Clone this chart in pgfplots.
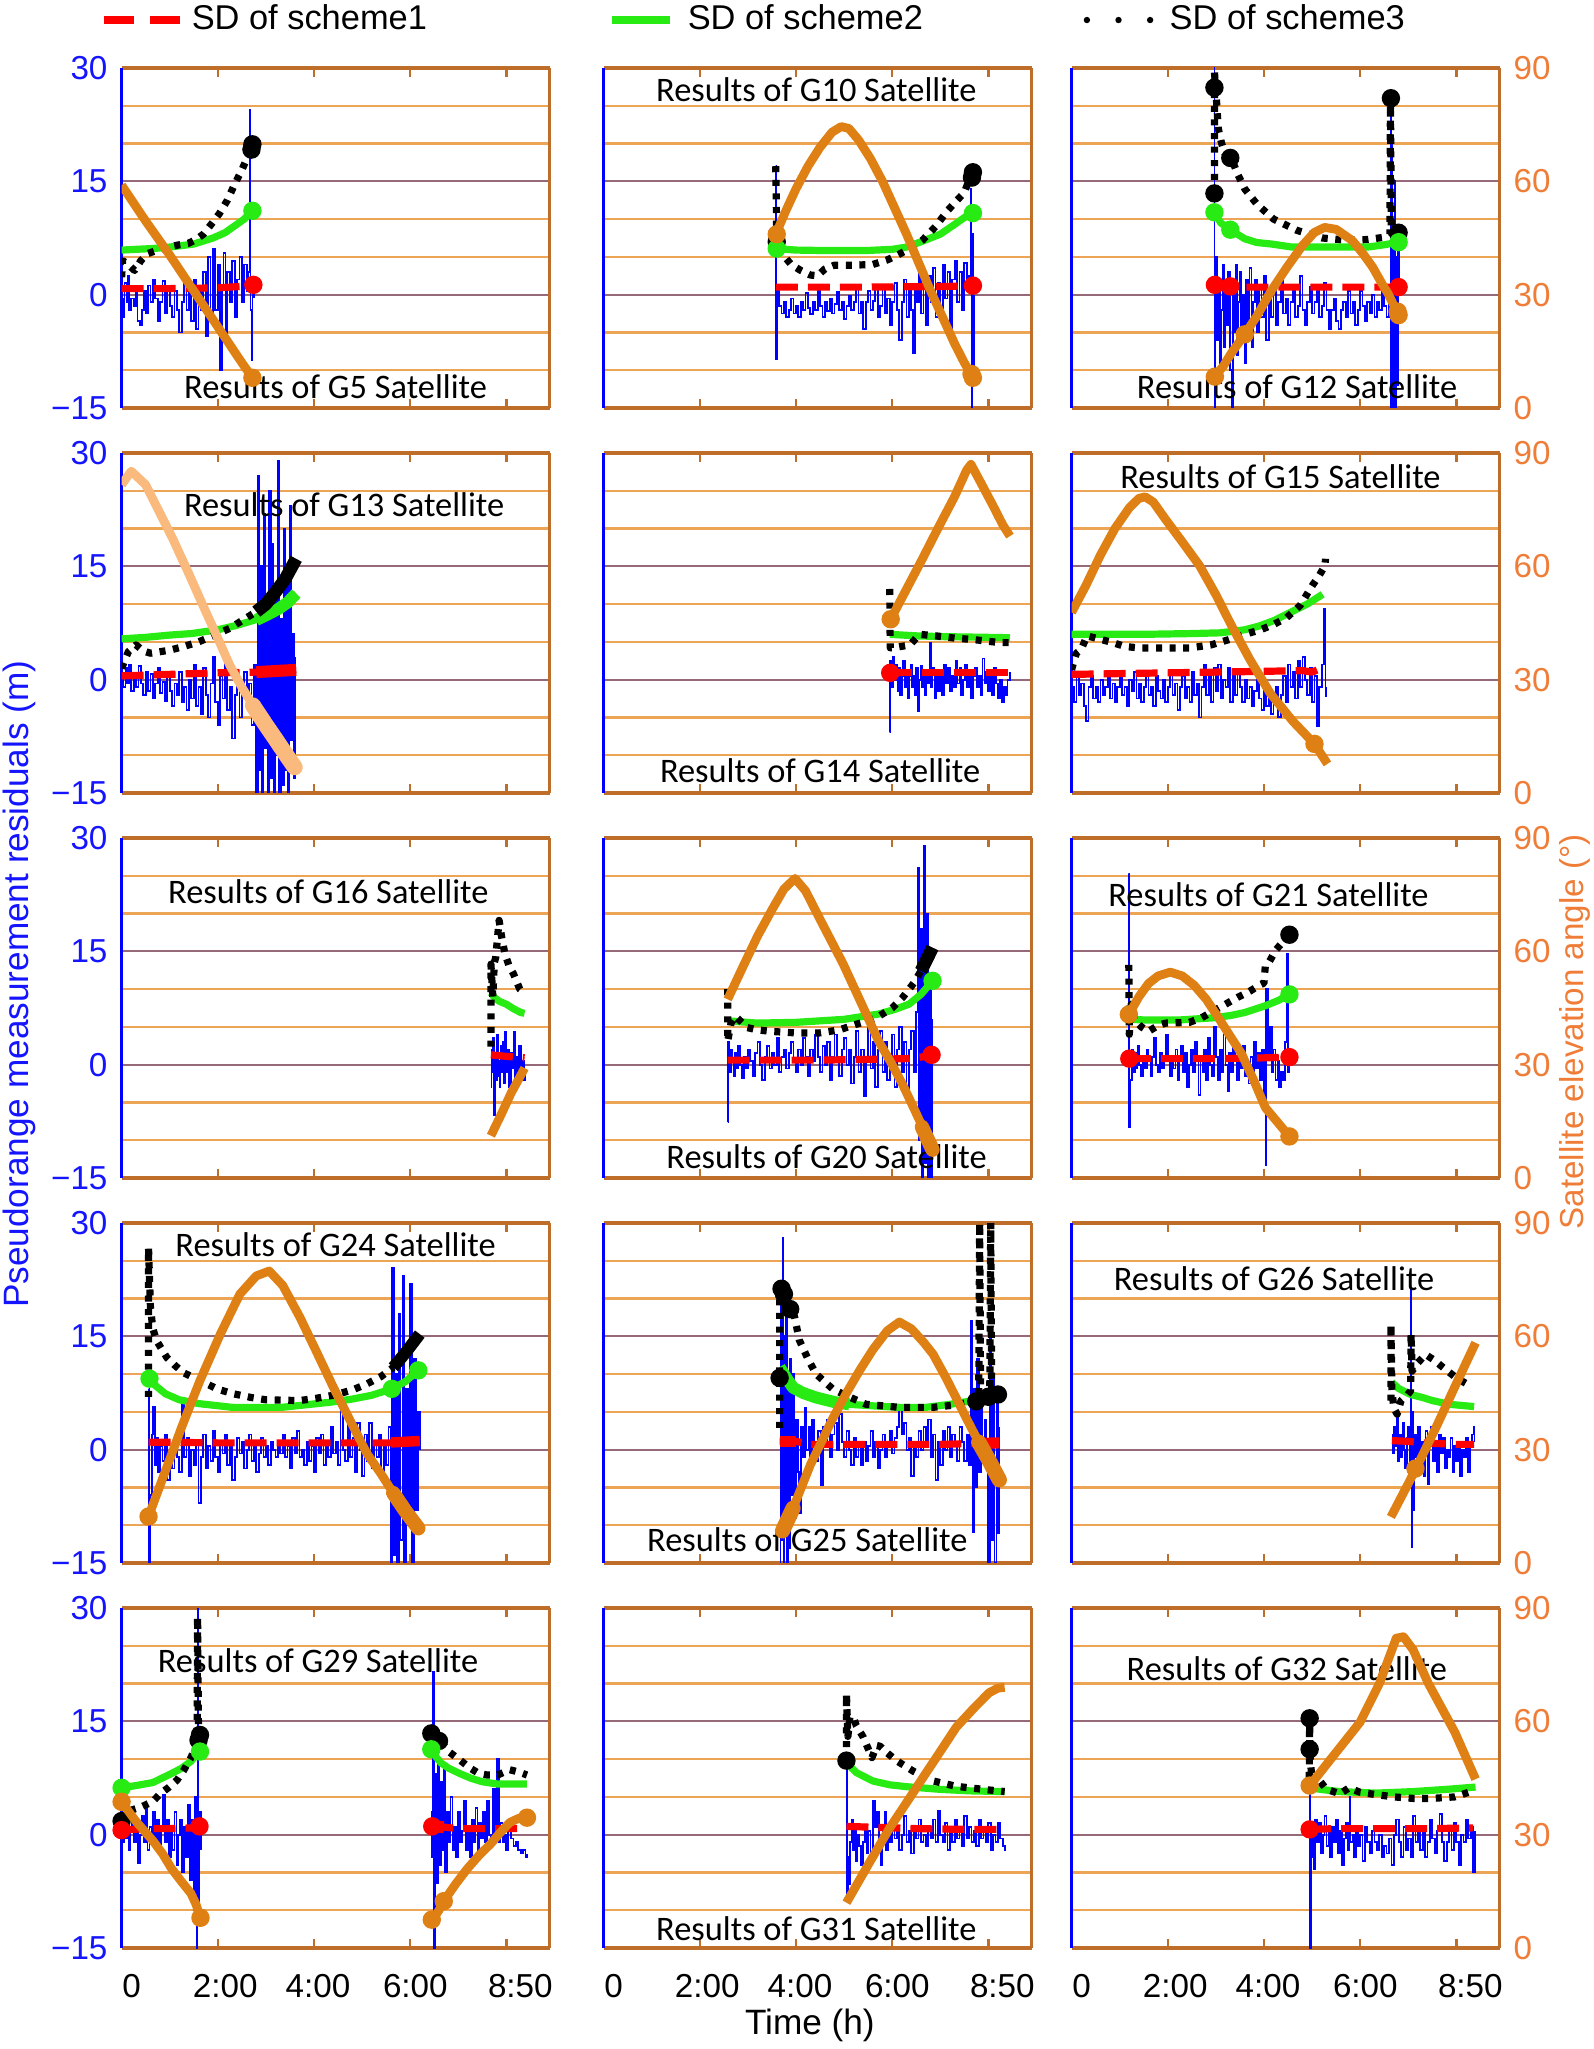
\documentclass[border=0pt]{standalone}
\usepackage{fontspec}
\setmainfont{Liberation Sans}
\newfontfamily\calibri{Carlito}
\usepackage{pgfplots}
\pgfplotsset{compat=1.18}
\definecolor{resblue}{RGB}{0,0,255}
\definecolor{sdred}{RGB}{255,0,0}
\definecolor{sdgreen}{RGB}{40,235,20}
\definecolor{elev}{RGB}{222,128,20}
\definecolor{elevlight}{RGB}{250,185,125}
\definecolor{gridmaj}{RGB}{150,105,120}
\definecolor{gridmin}{RGB}{235,165,85}
\definecolor{spine}{RGB}{190,110,40}
\definecolor{axblue}{RGB}{20,20,255}
\definecolor{axorange}{RGB}{240,125,55}
\def\cA{30.4pt}\def\cB{150.9pt}\def\cC{267.9pt}
\def\rA{410.25pt}\def\rB{314pt}\def\rC{217.75pt}\def\rD{121.5pt}\def\rE{25.25pt}
\newcommand{\ttl}[3]{\node[font=\calibri\fontsize{8.6}{10}\selectfont,inner sep=0pt] at (rel axis cs:#1,#2) {#3};}
\pgfplotsset{
  L/.style={width=107pt,height=85pt,scale only axis,anchor=south west,
    xmin=0,xmax=8.9,ymin=-15,ymax=30,
    xtick={0,2,4,6,8},xticklabels={},
    ytick={-15,0,15,30},yticklabels={},
    minor ytick={-10,-5,5,10,20,25},
    ymajorgrids,yminorgrids,
    major grid style={gridmaj,line width=0.55pt},
    minor grid style={gridmin,line width=0.55pt},
    ytick style={draw=none},minor tick length=0pt,
    xtick style={spine,line width=0.6pt},major tick length=2.2pt,tick align=inside,
    separate axis lines,
    axis line style={line width=0.8pt},
    x axis line style={spine},y axis line style={resblue},
    tick label style={font=\fontsize{8.3}{9}\selectfont},
    label style={font=\fontsize{8.8}{10}\selectfont}},
  Lc1/.style={yticklabels={−15,0,15,30},yticklabel style={axblue}},
  Bot/.style={xticklabels={\hspace*{5pt}0,\hspace*{3.7pt}2:00,\hspace*{2pt}4:00,\hspace*{2.6pt}6:00,\hspace*{7pt}8:50},
    xticklabel style={yshift=-3pt}},
  R/.style={width=107pt,height=85pt,scale only axis,anchor=south west,
    xmin=0,xmax=8.9,ymin=0,ymax=90,
    axis x line=none,axis y line*=right,
    ytick={0,30,60,90},yticklabels={},ytick style={draw=none},
    y axis line style={spine,line width=0.8pt},
    tick label style={font=\fontsize{8.3}{9}\selectfont},
    label style={font=\fontsize{8.8}{10}\selectfont}},
  Rc3/.style={yticklabels={0,30,60,90},yticklabel style={axorange}},
  res/.style={resblue,line width=0.45pt,no marks,const plot},
  sd1/.style={sdred,line width=1.8pt,dash pattern=on 5.5pt off 2.5pt,no marks,line join=round},
  sd2/.style={sdgreen,line width=1.8pt,no marks,line join=round},
  sd3/.style={black,line width=1.8pt,dash pattern=on 1.5pt off 1.9pt,no marks,line join=round},
  ele/.style={elev,line width=2.2pt,no marks,line join=round},
  blob/.style={only marks,mark=*,mark size=2.1pt},
}
\begin{document}
\begin{tikzpicture}
\path[use as bounding box] (0,0) rectangle (398.5pt,512.25pt);

% ---------- legend ----------
\begin{axis}[width=107pt,height=85pt,scale only axis,anchor=south west,at={(\cA,\rA)},
  hide axis,xmin=0,xmax=1,ymin=0,ymax=1,
  legend columns=3,
  legend style={at={(-0.079,1.141)},anchor=west,draw=none,fill=none,
    font=\fontsize{8.6}{10}\selectfont,
    /tikz/column 2/.style={column sep=43.3pt},
    /tikz/column 4/.style={column sep=38.2pt}}]
\addlegendimage{legend image code/.code={\draw[sdred,line width=1.8pt,dash pattern=on 7.5pt off 4pt] (0pt,0pt)--(19pt,0pt);}}
\addlegendentry{SD of scheme1}
\addlegendimage{legend image code/.code={\draw[sdgreen,line width=1.8pt] (0pt,0pt)--(14.5pt,0pt);\path (16.8pt,0pt);}}
\addlegendentry{SD of scheme2}
\addlegendimage{legend image code/.code={\draw[black,line width=1.6pt,line cap=round,dash pattern=on 0pt off 7.9pt] (0pt,0pt)--(16.5pt,0pt);\path (18.5pt,0pt);}}
\addlegendentry{SD of scheme3}
\end{axis}

% ================= G5 =================
\begin{axis}[L,Lc1,at={(\cA,\rA)}]
\addplot[res] coordinates {(0,-0.5)(0.03,-3)(0.06,1.5)(0.1,-1)(0.13,2.5)(0.16,-2)(0.2,-0.5)(0.25,-1.5)(0.3,1)(0.33,-3.5)(0.38,-4)(0.42,-2)(0.46,0.5)(0.5,-2.5)(0.55,1.2)(0.6,-1)(0.65,2)(0.7,-0.5)(0.75,-3.5)(0.8,-1)(0.85,1.8)(0.9,-2.5)(0.95,0.8)(1.0,-1.5)(1.05,-3)(1.1,0.5)(1.15,-2)(1.2,-5)(1.25,-1)(1.3,1.5)(1.35,-2)(1.4,0.5)(1.45,-3.5)(1.5,2)(1.55,-4.5)(1.6,1)(1.65,-2)(1.7,3)(1.75,-5.5)(1.8,5)(1.85,-3)(1.9,6)(1.95,-2)(2.0,4)(2.05,-10)(2.08,1)(2.12,5.5)(2.16,-6)(2.2,3)(2.25,-1)(2.3,4.5)(2.35,-3)(2.4,2)(2.45,5)(2.5,-1)(2.55,4)(2.6,0.5)(2.63,3)(2.66,24.5)(2.68,-2)(2.7,-8.6)(2.72,1)(2.76,-0.5)};
\addplot[sd1] coordinates {(0,0.8)(0.5,0.8)(1.0,0.8)(1.5,0.85)(2.0,0.9)(2.5,1.1)(2.76,1.3)};
\addplot[sd2] coordinates {(0,5.9)(0.3,6.0)(0.64,6.1)(1.0,6.3)(1.5,6.7)(1.9,7.5)(2.15,8.2)(2.35,9.1)(2.55,10.0)(2.72,11.1)};
\addplot[sd3] coordinates {(0,2.3)(0.02,4.5)(0.1,4.2)(0.27,3.2)(0.4,4.5)(0.53,5.4)(0.75,5.9)(0.96,6.3)(1.2,6.6)(1.39,6.8)(1.55,7.3)(1.7,8.0)(1.85,9.2)(2.03,10.7)(2.2,12.5)(2.35,14.6)(2.5,16.5)(2.61,18.1)(2.72,19.9)};
\addplot[blob,black] coordinates {(2.72,19.9)(2.7,19.2)};
\addplot[blob,sdgreen] coordinates {(2.72,11.1)};
\addplot[blob,sdred] coordinates {(2.74,1.3)};
\ttl{0.5}{0.062}{Results of G5 Satellite}
\end{axis}
\begin{axis}[R,at={(\cA,\rA)}]
\addplot[ele] coordinates {(0,59)(0.5,49.5)(1.0,40.5)(1.5,31)(2.0,21.5)(2.5,12)(2.72,8)};
\addplot[blob,elev] coordinates {(2.72,8)};
\end{axis}

% ================= G10 =================
\begin{axis}[L,at={(\cB,\rA)}]
\addplot[res] coordinates {(3.58,17)(3.59,-8.5)(3.61,1)(3.65,-1.5)(3.7,-2.5)(3.75,-1)(3.8,-3)(3.85,-2)(3.9,-0.5)(3.95,-2.5)(4.0,-1.5)(4.05,-3)(4.1,-1)(4.15,-2)(4.2,0.2)(4.25,-1.8)(4.3,-2.6)(4.35,-1)(4.4,-2)(4.45,0.5)(4.5,-1.5)(4.55,-3)(4.6,-1)(4.65,-2.2)(4.7,-0.5)(4.75,-2.5)(4.8,-1.2)(4.85,0.3)(4.9,-2)(4.95,-1)(5.0,-3.2)(5.05,-1.5)(5.1,-0.2)(5.15,-2)(5.2,-1)(5.25,0.8)(5.3,-2.5)(5.35,-1)(5.4,-4.5)(5.45,-1)(5.5,0.5)(5.55,-2)(5.6,-0.8)(5.65,1.2)(5.7,-3)(5.75,-1.5)(5.8,0.8)(5.85,-2.5)(5.9,-0.5)(5.95,-4)(6.0,-1)(6.05,1.5)(6.1,-2)(6.15,-6)(6.2,-1)(6.25,2)(6.3,-3)(6.35,0.5)(6.4,-2)(6.44,-7.8)(6.48,1)(6.52,-1)(6.56,3)(6.6,-2.5)(6.65,1)(6.7,-4)(6.75,2.5)(6.8,-1)(6.85,3.5)(6.9,-3)(6.95,1.5)(7.0,-2)(7.05,4)(7.1,-0.5)(7.15,3)(7.2,-4.5)(7.25,2)(7.3,4.5)(7.35,-1)(7.4,3)(7.45,-2)(7.5,4.2)(7.55,0.5)(7.6,2.5)(7.63,14)(7.65,-15)(7.67,8)(7.69,-10)(7.7,0)};
\addplot[sd1] coordinates {(3.58,1.0)(4.5,1.0)(5.5,1.0)(6.5,1.05)(7.2,1.1)(7.7,1.2)};
\addplot[sd2] coordinates {(3.58,6.1)(4.0,5.9)(4.5,5.85)(5.0,5.85)(5.5,5.85)(6.0,6.0)(6.3,6.3)(6.6,7.0)(7.0,8.0)(7.3,9.3)(7.5,10.2)(7.7,10.8)};
\addplot[sd3] coordinates {(3.58,17)(3.6,8)(3.7,5.5)(3.9,4.0)(4.1,3.2)(4.3,2.6)(4.45,2.5)(4.6,3.4)(4.8,3.9)(5.2,3.9)(5.6,4.0)(5.9,4.6)(6.1,5.2)(6.4,6.2)(6.63,7.2)(6.9,9.0)(7.15,11.1)(7.35,12.5)(7.5,13.5)(7.65,16.0)(7.7,16.4)};
\addplot[blob,black] coordinates {(7.68,16.2)(7.66,15.5)(3.6,7)};
\addplot[blob,sdgreen] coordinates {(7.68,10.8)(3.6,6.1)};
\addplot[blob,sdred] coordinates {(7.68,1.2)};
\ttl{0.497}{0.935}{Results of G10 Satellite}
\end{axis}
\begin{axis}[R,at={(\cB,\rA)}]
\addplot[ele] coordinates {(3.58,46)(3.8,52.5)(4.0,58)(4.25,64)(4.5,69)(4.75,73)(4.94,74.5)(5.1,74)(5.3,71)(5.55,66)(5.8,60)(6.05,53)(6.3,46)(6.55,38.5)(6.8,31)(7.05,24)(7.3,17)(7.5,12)(7.68,8)};
\addplot[blob,elev] coordinates {(3.6,46)(7.68,8)(7.65,9)};
\end{axis}

% ================= G12 =================
\begin{axis}[L,at={(\cC,\rA)}]
\addplot[res] coordinates {(2.96,30)(2.97,-15)(2.99,5)(3.02,-6)(3.05,2)(3.08,-9)(3.11,-2)(3.14,4)(3.17,-7)(3.2,1)(3.23,-4)(3.26,3)(3.3,-10)(3.33,-15)(3.35,2)(3.38,-5)(3.41,4)(3.44,-8)(3.47,-1)(3.5,3)(3.53,-6)(3.56,0)(3.6,-9)(3.63,2)(3.67,-4)(3.7,3.5)(3.74,-7)(3.78,-1)(3.82,2)(3.86,-5)(3.9,1)(3.95,-3)(4.0,2.5)(4.05,-6)(4.1,0)(4.15,-3)(4.2,1.5)(4.25,-4)(4.3,-1)(4.35,2)(4.4,-2.5)(4.45,-0.5)(4.5,-4)(4.55,-1)(4.6,1)(4.65,-3)(4.7,-1.5)(4.75,2.5)(4.8,-2)(4.85,-4)(4.9,-1)(4.95,1)(5.0,-2.5)(5.05,-1)(5.1,0.5)(5.15,-3)(5.2,-1.5)(5.25,1.5)(5.3,-2)(5.35,-4.5)(5.4,-2)(5.45,-0.5)(5.5,-3.5)(5.55,-4.5)(5.6,-2)(5.65,-1)(5.7,-3)(5.75,0.5)(5.8,-2.5)(5.85,-1)(5.9,-4)(5.95,-2)(6.0,0.5)(6.05,-1.5)(6.1,-3.5)(6.15,-1)(6.2,-2.5)(6.25,0)(6.3,-3)(6.35,-1)(6.4,-2)(6.45,0.5)(6.5,-1.5)(6.55,-3)(6.6,-1)(6.63,24)(6.64,-15)(6.66,20)(6.67,-15)(6.69,10)(6.7,-15)(6.72,15)(6.73,-15)(6.75,5)(6.77,-12)(6.78,8)(6.8,2)};
\addplot[sd1] coordinates {(2.97,1.3)(3.2,1.1)(3.5,1.0)(4.5,1.0)(5.5,1.0)(6.8,1.0)};
\addplot[sd2] coordinates {(2.97,10.9)(3.1,9.5)(3.32,8.5)(3.6,7.4)(3.85,6.9)(4.16,6.7)(4.58,6.3)(5.4,6.3)(6.16,6.3)(6.5,6.6)(6.8,6.95)};
\addplot[sd3] coordinates {(2.97,13.4)(2.97,29.5)(3.0,27)(3.05,22)(3.12,20)(3.2,18.5)(3.32,18.1)(3.45,16)(3.6,14)(3.85,12)(4.2,10)(4.69,8.5)(5.21,7.5)(5.74,7.2)(6.16,7.3)(6.5,7.6)(6.62,8.0)(6.63,26)(6.65,8.1)(6.8,8.2)};
\addplot[blob,black] coordinates {(2.97,27.4)(2.97,13.4)(3.3,18.1)(6.64,26)(6.8,8.2)};
\addplot[blob,sdgreen] coordinates {(2.97,10.9)(3.3,8.6)(6.8,6.95)};
\addplot[blob,sdred] coordinates {(2.98,1.3)(3.3,1.1)(6.8,1.0)};
\ttl{0.527}{0.062}{Results of G12 Satellite}
\end{axis}
\begin{axis}[R,Rc3,at={(\cC,\rA)}]
\addplot[ele] coordinates {(2.97,8.3)(3.15,11)(3.32,14.5)(3.6,19.5)(3.85,24.3)(4.15,31)(4.48,37.3)(4.8,43)(5.05,46.5)(5.26,47.8)(5.5,47.3)(5.84,44.3)(6.05,41)(6.26,37.3)(6.45,33)(6.58,30.3)(6.8,24.6)};
\addplot[blob,elev] coordinates {(2.98,8.3)(3.6,19.5)(6.78,25.5)(6.8,24.6)};
\end{axis}

% ================= G13 =================
\begin{axis}[L,Lc1,at={(\cA,\rB)}]
\addplot[res] coordinates {(0,0.5)(0.04,-1)(0.08,1.5)(0.12,-0.5)(0.16,2)(0.2,-1.5)(0.25,0.5)(0.3,-1)(0.35,1.8)(0.4,-0.5)(0.45,-2)(0.5,1)(0.55,-1.5)(0.6,0.8)(0.65,-2.5)(0.7,-0.5)(0.75,1.5)(0.8,-1.8)(0.85,-0.3)(0.9,-2.8)(0.95,0.5)(1.0,-1.5)(1.05,-3.5)(1.1,-0.5)(1.15,-2)(1.2,1)(1.25,-3)(1.3,-1)(1.35,-4)(1.4,0)(1.45,-2.5)(1.5,2)(1.55,-3.5)(1.6,-1)(1.65,-4.5)(1.7,1.5)(1.75,-2)(1.8,-5)(1.85,-0.5)(1.9,3)(1.95,-3)(2.0,-6)(2.05,0.5)(2.1,-2.5)(2.15,2.5)(2.2,-4)(2.25,-1)(2.3,-7.8)(2.35,-2)(2.4,0.5)(2.45,-5)(2.5,-1.5)(2.55,1)(2.6,-3.5)(2.65,-0.5)(2.7,-6)(2.75,2)(2.8,-15)(2.83,27)(2.86,-12)(2.89,15)(2.92,-15)(2.95,22)(2.98,-9)(3.01,10)(3.04,-15)(3.07,25)(3.1,-13)(3.13,18)(3.16,-15)(3.19,12)(3.22,-10)(3.25,29)(3.28,-15)(3.31,8)(3.34,-14)(3.37,20)(3.4,-12)(3.43,14)(3.46,-15)(3.49,23)(3.52,-8)(3.55,6)(3.58,-13)(3.61,3)};
\addplot[sd1] coordinates {(0,0.5)(1.0,0.7)(2.0,0.9)(2.8,1.0)(3.63,1.3)};
\addplot[sdred,line width=3pt] coordinates {(2.8,1.0)(3.63,1.3)};
\addplot[sd2] coordinates {(0,5.4)(0.5,5.6)(1.0,5.9)(1.45,6.1)(2.0,6.6)(2.4,7.2)(2.88,8.1)(3.27,9.4)(3.63,11.4)};
\addplot[sdgreen,line width=3pt] coordinates {(2.8,7.9)(3.0,8.5)(3.27,9.4)(3.45,10.2)(3.63,11.4)};
\addplot[sd3] coordinates {(0,1.5)(0.14,3.7)(0.3,4.6)(0.45,3.8)(0.6,3.5)(1.0,3.9)(1.3,4.4)(1.6,5.0)(1.9,5.8)(2.25,6.8)(2.5,7.8)(2.8,9.0)};
\addplot[black,line width=3.2pt,line join=round] coordinates {(2.8,9.0)(3.0,10.0)(3.2,11.6)(3.4,13.3)(3.63,16.0)};
\ttl{0.52}{0.849}{Results of G13 Satellite}
\end{axis}
\begin{axis}[R,at={(\cA,\rB)}]
\addplot[elevlight,line width=2.2pt,line join=round] coordinates {(0,81.6)(0.2,85.2)(0.5,81.6)(0.8,74)(1.06,67.4)(1.4,58)(1.69,49.7)(2.0,41)(2.25,33.8)(2.5,28)(2.73,23.2)(3.0,18)(3.2,14.3)(3.4,10.5)(3.6,6.8)};
\addplot[elevlight,line width=4pt,line cap=round] coordinates {(2.73,23.2)(3.0,18)(3.2,14.3)(3.4,10.5)(3.6,6.8)};
\end{axis}

% ================= G14 =================
\begin{axis}[L,at={(\cB,\rB)}]
\addplot[res] coordinates {(5.95,-7)(5.96,2.5)(5.99,-1)(6.02,3)(6.05,0)(6.08,2)(6.11,-1.5)(6.14,1.5)(6.17,-2)(6.2,0.5)(6.23,2.5)(6.26,-1)(6.29,1)(6.32,-2.5)(6.35,0.5)(6.38,2)(6.41,-1)(6.44,0.5)(6.47,-2)(6.5,1.5)(6.53,-4.2)(6.56,0)(6.59,1.8)(6.62,-1)(6.65,0.5)(6.68,-2)(6.71,1)(6.74,-0.5)(6.78,4.9)(6.8,-1)(6.84,1.5)(6.88,-2.5)(6.92,0.5)(6.96,-1.5)(7.0,1)(7.04,-2)(7.08,2)(7.12,-0.5)(7.16,1.5)(7.2,-1.5)(7.24,0.5)(7.28,-1)(7.32,2.5)(7.36,-0.5)(7.4,1.5)(7.44,-2)(7.48,0)(7.52,2)(7.56,-1)(7.6,1)(7.64,-2.5)(7.68,0.5)(7.72,1.5)(7.76,-1)(7.8,0.5)(7.84,-2)(7.88,2.8)(7.92,-0.5)(7.96,1)(8.0,-1.5)(8.04,0.5)(8.08,-2)(8.12,1.5)(8.16,-0.5)(8.2,-2.5)(8.24,0)(8.28,-3)(8.32,-1)(8.36,-2)(8.4,0)(8.45,1)};
\addplot[sd1] coordinates {(5.95,0.9)(7.0,0.9)(8.0,0.9)(8.45,0.9)};
\addplot[sd2] coordinates {(5.95,6.0)(6.5,5.8)(7.0,5.7)(7.5,5.65)(8.0,5.6)(8.45,5.55)};
\addplot[sd3] coordinates {(5.95,12)(5.96,4.2)(6.1,4.3)(6.37,4.6)(6.57,6.0)(6.9,5.8)(7.3,5.5)(7.7,5.3)(8.24,4.9)(8.45,4.9)};
\addplot[blob,sdred] coordinates {(5.96,0.9)};
\ttl{0.506}{0.066}{Results of G14 Satellite}
\end{axis}
\begin{axis}[R,at={(\cB,\rB)}]
\addplot[ele] coordinates {(5.97,46)(6.3,54)(6.63,62)(6.95,70)(7.3,78.5)(7.55,85.5)(7.64,87)(7.85,82)(8.1,76)(8.3,71)(8.45,68)};
\addplot[blob,elev] coordinates {(5.97,46)};
\end{axis}

% ================= G15 =================
\begin{axis}[L,at={(\cC,\rB)}]
\addplot[res] coordinates {(0,-1)(0.05,-3)(0.1,0.5)(0.15,-2)(0.2,-0.5)(0.25,-3.5)(0.3,-5.5)(0.35,-1)(0.4,0.5)(0.45,-2.5)(0.5,-1)(0.55,-3)(0.6,0)(0.65,-2)(0.7,-1)(0.75,1)(0.8,-2.5)(0.85,-0.5)(0.9,-3)(0.95,-1)(1.0,0.5)(1.05,-2)(1.1,-1)(1.15,-3.5)(1.2,0)(1.25,-1.5)(1.3,1)(1.35,-2.5)(1.4,-0.5)(1.45,-3)(1.5,-1)(1.55,0.8)(1.6,-2)(1.65,-1)(1.7,-3.5)(1.75,0.5)(1.8,-1.5)(1.85,-2.5)(1.9,0)(1.95,-3)(2.0,-1)(2.05,1.2)(2.1,-2)(2.15,-0.5)(2.2,-4)(2.25,-1)(2.3,0.5)(2.35,-2.5)(2.4,-1)(2.45,-3)(2.5,1)(2.55,-2)(2.6,-0.5)(2.65,-5)(2.7,-1)(2.75,2)(2.8,-2)(2.85,0.5)(2.9,-3)(2.95,1.5)(3.0,-1.5)(3.05,2)(3.1,-2.5)(3.15,0)(3.2,-1)(3.25,1.5)(3.3,-3)(3.35,0.5)(3.4,-2)(3.45,1)(3.5,-1)(3.55,-3)(3.6,0)(3.65,-2.5)(3.7,-1)(3.75,-3.5)(3.8,-1.5)(3.85,0)(3.9,-2.5)(3.95,-4)(4.0,-1.5)(4.05,-3.5)(4.1,-2)(4.15,-4.5)(4.2,-2.5)(4.25,-1)(4.3,-4.9)(4.35,-2)(4.4,0.5)(4.45,-3)(4.5,2)(4.55,-1)(4.6,1)(4.65,-2.5)(4.7,2.5)(4.75,-1)(4.8,3)(4.85,0)(4.9,-2)(4.95,1.5)(5.0,-3)(5.05,0.5)(5.1,-6.2)(5.15,-1)(5.2,2)(5.25,9.3)(5.28,-2.2)(5.3,-1)};
\addplot[sd1] coordinates {(0,0.7)(1,0.8)(2,0.9)(3,1.0)(4,1.1)(4.8,1.2)(5.0,1.0)(5.15,1.4)(5.3,1.5)};
\addplot[sd2] coordinates {(0,6.0)(0.5,6.0)(1.5,6.0)(2.5,6.1)(3.1,6.2)(3.6,6.6)(3.9,7.1)(4.2,7.8)(4.55,8.9)(4.9,10.0)(5.22,11.3)};
\addplot[sd3] coordinates {(0,1.3)(0.05,2.5)(0.1,3.5)(0.2,4.0)(0.32,5.8)(0.5,5.5)(0.86,4.9)(1.1,4.4)(1.4,4.2)(2.0,4.2)(2.46,4.2)(2.9,4.6)(3.27,5.3)(3.6,6.0)(3.93,6.6)(4.2,7.3)(4.47,8.2)(4.75,9.8)(5.0,12.4)(5.15,13.8)(5.27,15.1)(5.28,16)};
\ttl{0.488}{0.93}{Results of G15 Satellite}
\end{axis}
\begin{axis}[R,Rc3,at={(\cC,\rB)}]
\addplot[ele] coordinates {(0,47.8)(0.3,55)(0.6,63)(0.9,70)(1.2,75.5)(1.4,78)(1.53,78.4)(1.7,77)(1.95,72.5)(2.3,66.5)(2.66,60.2)(3.0,52.5)(3.33,44.2)(3.7,35.5)(4.13,26.4)(4.6,19)(5.05,13)(5.32,7.7)};
\addplot[blob,elev] coordinates {(5.05,13)};
\end{axis}

% ================= G16 =================
\begin{axis}[L,Lc1,at={(\cA,\rC)},ylabel={Pseudorange measurement residuals (m)},
  ylabel style={at={(axis description cs:-0.238,0.57)},anchor=center,axblue}]
\addplot[res] coordinates {(7.68,-3)(7.69,2)(7.7,-1)(7.72,3.5)(7.74,-6.7)(7.76,1)(7.78,-2)(7.8,4)(7.82,-1.5)(7.84,0.5)(7.86,-3)(7.88,2.5)(7.9,-1)(7.92,3)(7.94,0)(7.96,-2.5)(7.98,4.4)(8.0,-1)(8.03,2)(8.06,-3)(8.09,1.5)(8.12,-0.5)(8.15,4.3)(8.18,-2)(8.21,1)(8.24,-1.5)(8.27,2.5)(8.3,-1)(8.33,0.5)(8.36,-2)(8.4,-1)};
\addplot[sd1] coordinates {(7.68,1.3)(8.0,1.1)(8.38,0.9)};
\addplot[sd2] coordinates {(7.68,9.5)(7.75,8.9)(7.85,8.4)(8.0,8.0)(8.15,7.4)(8.3,6.9)(8.38,6.8)};
\addplot[sd3] coordinates {(7.68,2.4)(7.68,13.3)(7.72,9)(7.75,13.5)(7.78,14.2)(7.82,17)(7.85,19.1)(7.9,17)(7.97,14.7)(8.05,13.2)(8.15,12.0)(8.28,10)(8.3,9.9)};
\ttl{0.483}{0.842}{Results of G16 Satellite}
\end{axis}
\begin{axis}[R,at={(\cA,\rC)}]
\addplot[ele] coordinates {(7.68,11.2)(7.9,17)(8.1,22.5)(8.25,26)(8.38,29.1)};
\end{axis}

% ================= G20 =================
\begin{axis}[L,at={(\cB,\rC)}]
\addplot[res] coordinates {(2.58,-7.6)(2.59,3)(2.62,-1)(2.65,2)(2.68,0.5)(2.71,-1.5)(2.74,1.5)(2.77,-0.5)(2.8,2.5)(2.84,0)(2.88,-1.8)(2.92,1)(2.96,-0.5)(3.0,2)(3.05,0.5)(3.1,-1.5)(3.15,1.5)(3.2,3)(3.25,0)(3.3,-2)(3.35,1)(3.4,2.5)(3.45,-0.5)(3.5,1.5)(3.55,0)(3.6,3.5)(3.65,-1)(3.7,1)(3.75,2)(3.8,-0.5)(3.85,1.5)(3.9,3)(3.95,0.5)(4.0,-1)(4.05,2)(4.1,0)(4.15,3.5)(4.2,1)(4.25,-1.5)(4.3,2)(4.35,0.5)(4.4,4)(4.45,1)(4.5,-1)(4.55,2.5)(4.6,0)(4.65,3)(4.7,-2)(4.75,1)(4.8,4)(4.85,0.5)(4.9,-1.5)(4.95,2)(5.0,3.5)(5.05,0)(5.1,2)(5.15,-2.5)(5.2,1)(5.25,4.5)(5.3,-1)(5.35,2)(5.41,-4.2)(5.45,1)(5.5,5.3)(5.55,-0.5)(5.6,3)(5.65,-3)(5.7,2)(5.75,4.5)(5.8,-1)(5.85,3)(5.9,-2)(5.95,1)(6.0,4)(6.05,-3)(6.1,2)(6.15,5)(6.2,-1)(6.25,3)(6.3,-4)(6.35,2)(6.4,4.5)(6.45,-1)(6.5,7)(6.53,26)(6.56,-10)(6.59,18)(6.62,-15)(6.65,29)(6.68,-13)(6.71,20)(6.74,-15)(6.77,12)(6.8,-15)(6.83,6)};
\addplot[sd1] coordinates {(2.58,0.6)(3.5,0.6)(4.5,0.6)(5.5,0.7)(6.3,0.8)(6.6,1.0)(6.84,1.3)};
\addplot[sd2] coordinates {(2.58,5.8)(3.2,5.5)(4.0,5.6)(5.0,6.0)(5.72,6.7)(6.05,7.3)(6.35,8.0)(6.6,9.3)(6.84,11.1)};
\addplot[sd3] coordinates {(2.58,10)(2.58,3.1)(2.65,5.5)(2.74,6.4)(2.99,4.9)(3.2,4.6)(3.49,4.4)(4.0,4.2)(4.49,4.2)(4.9,4.6)(5.23,5.3)(5.5,5.8)(5.72,6.4)(6.0,7.5)(6.22,8.9)(6.45,10.8)(6.6,12.4)};
\addplot[black,line width=3.2pt,line join=round] coordinates {(6.6,12.4)(6.75,14.3)(6.84,15.5)};
\addplot[blob,sdred] coordinates {(6.82,1.3)};
\addplot[blob,sdgreen] coordinates {(6.84,11.1)};
\ttl{0.521}{0.062}{Results of G20 Satellite}
\end{axis}
\begin{axis}[R,at={(\cB,\rC)}]
\addplot[ele] coordinates {(2.58,47.3)(2.9,56)(3.2,64)(3.5,71)(3.75,76.5)(3.98,79.3)(4.2,76)(4.5,68.5)(4.98,56.7)(5.35,46.5)(5.72,36.2)(6.0,30)(6.22,24.7)(6.45,18.5)(6.65,13)(6.84,7.3)};
\addplot[elev,line width=3.6pt,line cap=round] coordinates {(6.62,13.5)(6.84,7.5)};
\end{axis}

% ================= G21 =================
\begin{axis}[L,at={(\cC,\rC)}]
\addplot[res] coordinates {(1.19,25.3)(1.2,-8.2)(1.22,-2)(1.25,2)(1.28,-1)(1.31,1.5)(1.34,-0.5)(1.37,2.5)(1.4,0)(1.44,-1.5)(1.48,1)(1.52,-0.5)(1.56,2)(1.6,0.5)(1.64,-1.5)(1.68,1)(1.72,3.5)(1.76,0)(1.8,-1)(1.84,1.5)(1.88,-0.5)(1.92,1)(1.96,4)(2.0,0.5)(2.04,-1.5)(2.08,1)(2.12,-0.5)(2.16,2)(2.2,-2)(2.24,0.5)(2.28,2.5)(2.32,-1)(2.36,1.5)(2.4,-3)(2.44,0)(2.48,2)(2.52,-1)(2.56,3)(2.6,0.5)(2.64,-4)(2.68,1)(2.72,-1)(2.76,2)(2.8,-2)(2.84,3.5)(2.88,0)(2.92,-1.5)(2.96,5)(3.0,1)(3.04,-2)(3.08,2)(3.12,-1)(3.16,4)(3.2,0)(3.24,-3.5)(3.28,1.5)(3.32,-1)(3.36,3)(3.4,0.5)(3.44,-2)(3.48,1)(3.52,-0.5)(3.56,2.5)(3.6,-1.5)(3.64,0.5)(3.68,-2.5)(3.72,1)(3.76,-1)(3.8,3)(3.84,-0.5)(3.88,1.5)(3.92,-2)(3.96,2)(4.0,-4)(4.03,-13.3)(4.05,10)(4.08,1)(4.12,5)(4.16,-1)(4.2,2)(4.24,-2)(4.28,0.5)(4.32,-3)(4.36,-1)(4.4,-2)(4.44,3)(4.48,14.7)(4.5,-1)(4.53,0)};
\addplot[sd1] coordinates {(1.19,0.8)(2,0.8)(3,0.8)(4,0.9)(4.53,1.0)};
\addplot[sd2] coordinates {(1.19,6.0)(1.6,5.9)(2.2,5.9)(2.95,6.2)(3.3,6.5)(3.6,6.9)(4.03,7.8)(4.3,8.5)(4.53,9.3)};
\addplot[sd3] coordinates {(1.19,13.2)(1.2,4.0)(1.24,8)(1.3,6.0)(1.45,5.0)(1.6,4.4)(1.8,5.2)(1.96,5.5)(2.45,5.6)(2.7,6.2)(2.95,7.1)(3.2,8.0)(3.45,8.9)(3.7,9.7)(3.9,10.5)(4.0,10.8)(4.03,13.2)(4.1,13.5)(4.25,15.2)(4.4,16.3)(4.53,17.2)};
\addplot[blob,black] coordinates {(4.53,17.2)};
\addplot[blob,sdgreen] coordinates {(4.53,9.3)};
\addplot[blob,sdred] coordinates {(1.2,0.8)(4.53,1.0)};
\ttl{0.46}{0.834}{Results of G21 Satellite}
\end{axis}
\begin{axis}[R,Rc3,at={(\cC,\rC)},ylabel={Satellite elevation angle (°)},
  ylabel style={at={(axis description cs:1.175,0.43)},anchor=center,axorange,font=\fontsize{8.3}{10}\selectfont}]
\addplot[ele] coordinates {(1.19,43.3)(1.4,48)(1.6,51.5)(1.8,53.5)(2.05,54.5)(2.3,53.5)(2.55,51)(2.8,47.3)(3.05,42.5)(3.3,37.5)(3.53,33)(3.8,25.5)(4.03,18.6)(4.3,14.5)(4.53,11)};
\addplot[blob,elev] coordinates {(1.19,43.3)(4.53,11)};
\end{axis}

% ================= G24 =================
\begin{axis}[L,Lc1,at={(\cA,\rD)}]
\addplot[res] coordinates {(0.56,8)(0.57,-15)(0.6,-6)(0.63,2)(0.66,5.6)(0.69,-2)(0.72,1.5)(0.75,-3)(0.8,0.5)(0.85,-1.5)(0.9,2)(0.95,-4)(1.0,0)(1.05,-2.5)(1.1,1)(1.15,-1)(1.2,-3)(1.25,6)(1.3,-1)(1.35,1.5)(1.4,-3.5)(1.45,0)(1.5,-2)(1.55,1)(1.6,-7.1)(1.65,-1)(1.7,2)(1.75,-2.5)(1.8,0.5)(1.85,-1.5)(1.9,2.5)(1.95,-1)(2.0,-3)(2.05,1)(2.1,-0.5)(2.15,2)(2.2,-2)(2.25,0.5)(2.3,-4)(2.35,-1)(2.4,1.5)(2.45,-0.5)(2.5,1)(2.55,-2.5)(2.6,0)(2.65,2)(2.7,-1.5)(2.75,0.5)(2.8,-3)(2.85,-0.5)(2.9,1.5)(2.95,-1)(3.0,0.5)(3.05,-2)(3.1,1)(3.15,0)(3.2,-1)(3.25,1)(3.3,-0.5)(3.35,2)(3.4,-1)(3.45,0.5)(3.5,-2.5)(3.55,1.5)(3.6,-0.5)(3.65,2.5)(3.7,-1)(3.75,0)(3.8,-2)(3.85,1)(3.9,-1.5)(3.95,0.5)(4.0,-3)(4.05,1.5)(4.1,-0.5)(4.15,2)(4.2,-2)(4.25,0.5)(4.3,-1)(4.35,3)(4.4,-0.5)(4.45,1)(4.5,-2)(4.55,5.4)(4.6,0)(4.65,-1.5)(4.7,4.5)(4.75,-1)(4.8,1.5)(4.85,-3)(4.9,3.5)(4.95,0)(5.0,-3.5)(5.05,2)(5.1,-1.5)(5.15,3.5)(5.2,-2.5)(5.25,1)(5.3,-1)(5.35,2)(5.4,-3)(5.45,1)(5.5,-2)(5.55,3)(5.6,-15)(5.63,24)(5.66,-14)(5.7,10)(5.73,-15)(5.77,18)(5.8,-12)(5.84,23)(5.88,-15)(5.92,8)(5.96,-10)(6.0,22)(6.04,-15)(6.08,12)(6.12,-8)(6.16,5)(6.2,0)};
\addplot[sd1] coordinates {(0.56,1.0)(2,0.9)(4,0.9)(5.6,0.9)(6.2,1.1)};
\addplot[sdred,line width=2.6pt] coordinates {(5.6,0.95)(6.2,1.15)};
\addplot[sd2] coordinates {(0.56,9.4)(0.7,8.5)(0.91,7.4)(1.2,6.6)(1.6,6.1)(2.3,5.6)(3.33,5.6)(4.37,6.3)(4.8,6.7)(5.2,7.2)(5.62,8.05)(5.9,9.0)(6.17,10.5)};
\addplot[sd3] coordinates {(0.56,7)(0.56,26.7)(0.6,18.8)(0.65,16)(0.73,14.4)(0.94,12.2)(1.1,11.2)(1.28,10.2)(1.63,9.15)(2.0,8.0)(2.32,7.4)(2.7,6.9)(3.0,6.6)(3.7,6.5)(4.05,6.8)(4.4,7.2)(4.8,7.9)(5.1,8.7)(5.4,9.7)(5.65,10.9)};
\addplot[black,line width=3pt,line join=round] coordinates {(5.65,10.9)(5.9,12.8)(6.2,15.3)};
\addplot[blob,sdgreen] coordinates {(0.58,9.4)(5.62,8.05)(6.17,10.5)};
\ttl{0.5}{0.935}{Results of G24 Satellite}
\end{axis}
\begin{axis}[R,at={(\cA,\rD)}]
\addplot[ele] coordinates {(0.56,12.3)(0.9,24)(1.25,36)(1.63,48.3)(2.05,60.5)(2.46,71.2)(2.8,76)(3.07,77.3)(3.35,73.5)(3.71,65)(4.05,56)(4.4,46.6)(4.75,37.8)(5.1,29)(5.4,23.5)(5.65,18.5)(5.9,13.8)(6.17,9.2)};
\addplot[elev,line width=3.6pt,line cap=round] coordinates {(5.65,18.5)(5.9,13.8)(6.17,9.2)};
\addplot[blob,elev] coordinates {(0.56,12.3)};
\end{axis}

% ================= G25 =================
\begin{axis}[L,at={(\cB,\rD)}]
\addplot[res] coordinates {(3.66,-15)(3.68,20)(3.7,-12)(3.72,28)(3.74,-15)(3.76,15)(3.78,-10)(3.8,22)(3.82,-15)(3.84,8)(3.86,-13)(3.88,12)(3.9,-6)(3.93,10)(3.96,-9)(4.0,4)(4.04,-3)(4.07,-8.4)(4.1,3)(4.14,-1)(4.18,5.5)(4.22,0)(4.26,3)(4.3,-2)(4.34,4)(4.38,1)(4.42,-1.5)(4.46,2.5)(4.52,-4.7)(4.56,3)(4.6,0.5)(4.65,4)(4.7,-1)(4.75,2)(4.8,3.5)(4.85,0)(4.9,4.7)(4.95,1)(5.0,-1)(5.05,2.5)(5.1,0)(5.15,-2)(5.2,1.5)(5.25,-1)(5.3,0.5)(5.35,-2)(5.4,1)(5.45,-1.5)(5.5,0.5)(5.55,2.5)(5.6,-1)(5.65,1)(5.7,-2.5)(5.75,0)(5.8,2)(5.85,-1)(5.9,0.5)(5.95,2.5)(6.0,-0.5)(6.05,1.5)(6.1,3)(6.15,5.6)(6.2,2)(6.25,3.5)(6.3,0)(6.35,1.5)(6.4,-3.5)(6.45,1)(6.5,-1)(6.55,2.5)(6.6,0)(6.65,3)(6.7,1)(6.75,4)(6.8,-1)(6.85,2)(6.9,-4)(6.95,1)(7.0,-2)(7.05,2.5)(7.1,0)(7.15,3)(7.2,-1)(7.25,2)(7.3,0.5)(7.35,-1.5)(7.4,3)(7.45,1)(7.5,-1.5)(7.55,2)(7.6,-2)(7.64,17)(7.67,-10.9)(7.7,8)(7.73,-5)(7.76,12)(7.8,-3)(7.84,6)(7.88,-1)(7.92,4)(7.96,-2)(8.0,-15)(8.03,15)(8.06,-12)(8.1,10)(8.13,-15)(8.17,8)(8.2,-11)(8.23,3)};
\addplot[sd1] coordinates {(3.66,1.1)(4.0,1.1)(4.3,0.7)(5,0.7)(6,0.7)(7,0.7)(7.6,0.8)(8.23,0.9)};
\addplot[sdred,line width=2.8pt] coordinates {(3.66,1.1)(4.0,1.1)};
\addplot[sdred,line width=2.8pt] coordinates {(7.9,0.85)(8.23,0.9)};
\addplot[sd2] coordinates {(3.66,10.9)(3.8,9.5)(3.94,8.2)(4.15,7.5)(4.42,6.9)(4.8,6.3)(5.11,6.0)(5.6,5.8)(6.15,5.6)(6.7,5.6)(7.2,6.0)(7.7,6.5)(8.23,7.1)};
\addplot[sdgreen,line width=3pt,line join=round] coordinates {(3.66,10.9)(3.8,9.5)(3.94,8.2)(4.15,7.5)(4.42,6.9)(4.8,6.3)(5.11,6.0)};
\addplot[sd3] coordinates {(3.66,2.9)(3.66,22)(3.7,21.3)(3.8,19.5)(3.97,17.6)(4.07,14.5)(4.25,12)(4.42,10)(4.77,8)(5.1,7)(5.46,6.0)(6.15,5.6)(6.85,5.6)(7.3,5.9)(7.54,6.2)(7.8,6.5)(7.82,30)(7.84,6.7)(8.03,7.0)(8.05,30)(8.07,7.1)(8.23,7.3)};
\addplot[blob,black] coordinates {(3.7,21.3)(3.75,20.6)(3.88,18.6)(3.66,9.5)(8.2,7.3)(8.0,7.0)(7.75,6.4)};
\ttl{0.476}{0.069}{Results of G25 Satellite}
\end{axis}
\begin{axis}[R,at={(\cB,\rD)}]
\addplot[ele] coordinates {(3.66,7)(3.94,14.5)(4.3,26)(4.77,38.4)(5.05,45)(5.32,50.9)(5.6,56.5)(5.9,61.5)(6.15,63.8)(6.4,62)(6.65,58.5)(6.85,55.3)(7.1,49.5)(7.3,44.5)(7.54,38.4)(7.8,32)(8.0,27.5)(8.23,22)};
\addplot[elev,line width=3.8pt,line cap=round] coordinates {(3.72,8.5)(3.94,14.5)};
\addplot[elev,line width=3.8pt,line cap=round] coordinates {(7.8,32)(8.0,27.5)(8.23,22)};
\end{axis}

% ================= G26 =================
\begin{axis}[L,at={(\cC,\rD)}]
\addplot[res] coordinates {(6.66,2)(6.68,-0.5)(6.7,3)(6.73,0.5)(6.76,4.7)(6.79,-1.5)(6.82,2)(6.85,-1)(6.88,3.5)(6.91,0)(6.94,-2.5)(6.97,1.5)(7.0,3)(7.03,-2)(7.05,21.4)(7.07,-12.9)(7.09,5)(7.11,-8)(7.13,2)(7.16,-1)(7.2,3)(7.24,-2)(7.28,1)(7.32,-3.5)(7.36,2.5)(7.4,-4.5)(7.44,0.5)(7.48,3)(7.52,-1.5)(7.56,1)(7.6,-3)(7.64,2)(7.68,-0.5)(7.72,1.5)(7.76,-2.5)(7.8,0)(7.84,-1)(7.88,1.5)(7.92,-3)(7.96,0.5)(8.0,-1.5)(8.04,1)(8.08,-3.5)(8.12,0)(8.16,-1)(8.2,1.5)(8.24,-3)(8.28,0.5)(8.32,2)(8.36,3)(8.38,1)};
\addplot[sd1] coordinates {(6.66,1.2)(7.0,1.1)(7.3,0.9)(8.0,0.7)(8.37,0.7)};
\addplot[sd2] coordinates {(6.66,8.9)(6.8,8.1)(7.05,7.3)(7.3,6.9)(7.5,6.5)(7.86,6.0)(8.37,5.7)};
\addplot[sd3] coordinates {(6.64,6.5)(6.64,16.6)(6.66,8)(6.7,5.5)(6.77,4.7)(6.85,6.5)(6.99,7.3)(7.05,7.8)(7.06,15.3)(7.08,10.4)(7.2,11.5)(7.36,12.6)(7.55,11.8)(7.72,10.9)(8.0,9.5)(8.3,8.4)};
\ttl{0.473}{0.835}{Results of G26 Satellite}
\end{axis}
\begin{axis}[R,Rc3,at={(\cC,\rD)}]
\addplot[ele] coordinates {(6.64,12.2)(7.0,21)(7.2,26)(7.6,36.5)(8.0,47.5)(8.4,58.3)};
\addplot[blob,elev] coordinates {(7.15,25)};
\end{axis}

% ================= G29 =================
\begin{axis}[L,Lc1,Bot,at={(\cA,\rE)}]
\addplot[res] coordinates {(0,1)(0.03,-1)(0.06,2)(0.09,-0.5)(0.12,1.5)(0.15,-2)(0.18,0.5)(0.22,3)(0.26,-1)(0.3,1)(0.34,-3.8)(0.38,0)(0.42,2.5)(0.46,-1)(0.5,4)(0.54,-2)(0.58,1)(0.62,-0.5)(0.66,3)(0.7,-1.5)(0.74,2)(0.78,-2.5)(0.82,0.5)(0.86,5.3)(0.9,-1)(0.94,2)(0.98,-3)(1.02,1)(1.06,-2)(1.1,3)(1.14,-4)(1.18,0)(1.22,2)(1.26,-5)(1.3,1)(1.34,-3)(1.38,4)(1.42,-6)(1.46,2)(1.5,-10)(1.53,5)(1.56,-15)(1.58,30)(1.6,-12)(1.62,3)(1.65,-2)};
\addplot[res] coordinates {(6.44,3)(6.46,-3)(6.48,21.6)(6.5,-15)(6.52,8)(6.55,-6.4)(6.58,10)(6.61,-4)(6.64,7)(6.67,-2)(6.7,9)(6.73,-5)(6.76,3)(6.8,-1)(6.84,5)(6.88,-2)(6.92,1)(6.96,-3)(7.0,3)(7.04,-1)(7.08,0.5)(7.12,4.5)(7.16,-2)(7.2,1)(7.24,-3)(7.28,2)(7.32,-1)(7.36,3.5)(7.4,-2)(7.44,1.5)(7.48,-0.5)(7.52,3)(7.56,-1)(7.6,4.5)(7.64,0)(7.68,-1.5)(7.72,6)(7.76,0)(7.8,10)(7.84,-1)(7.88,1.5)(7.92,-1)(7.96,0)(8.0,-2)(8.04,1)(8.1,-0.5)(8.15,-1.5)(8.2,-1)(8.25,-2)(8.3,-2.5)(8.35,-2)(8.4,-3)(8.43,-2.6)};
\addplot[sd1] coordinates {(0,0.6)(0.5,0.8)(1.0,0.8)(1.5,0.9)(1.65,1.1)};
\addplot[sd1] coordinates {(6.44,1.1)(6.7,1.0)(7.0,0.8)(7.5,0.8)(8.0,0.8)(8.43,0.8)};
\addplot[sdred,line width=3pt] coordinates {(6.44,1.1)(6.7,1.0)};
\addplot[sd2] coordinates {(0,6.2)(0.3,6.5)(0.65,6.9)(1.04,8.1)(1.25,8.8)(1.44,9.7)(1.65,11.3)};
\addplot[sd2] coordinates {(6.44,11.3)(6.55,10.2)(6.64,9.5)(6.8,8.8)(7.03,8.1)(7.25,7.5)(7.5,7.0)(7.82,6.7)(8.43,6.7)};
\addplot[sd3] coordinates {(0,1.8)(0.05,2.5)(0.18,3.2)(0.42,3.7)(0.65,4.4)(0.8,5.4)(0.97,6.2)(1.15,7.2)(1.29,8.5)(1.45,10.3)(1.55,11.8)(1.57,12.3)(1.58,28.8)(1.6,12.8)(1.65,13.2)};
\addplot[sd3] coordinates {(6.44,13.4)(6.5,12.8)(6.64,12.3)(6.8,11)(7.03,9.9)(7.25,8.8)(7.43,8.1)(7.6,7.9)(7.82,7.9)(8.07,8.6)(8.25,8.3)(8.43,7.9)};
\addplot[blob,black] coordinates {(0,1.8)(1.63,13.2)(1.6,12.5)(6.44,13.4)(6.6,12.4)};
\addplot[blob,sdgreen] coordinates {(0,6.2)(1.63,11.0)(6.44,11.3)};
\addplot[blob,sdred] coordinates {(1.62,1.1)(6.46,1.1)(0,0.6)};
\ttl{0.459}{0.846}{Results of G29 Satellite}
\end{axis}
\begin{axis}[R,at={(\cA,\rE)}]
\addplot[ele] coordinates {(0,38.7)(0.3,33.5)(0.65,28.4)(0.85,25)(1.04,21)(1.25,17.5)(1.44,14.5)(1.55,11.5)(1.65,7.4)};
\addplot[ele] coordinates {(6.44,7)(6.6,10)(6.71,12.6)(6.95,17)(7.19,21)(7.43,24.5)(7.67,27.5)(7.87,30.5)(8.07,33.2)(8.25,34.3)(8.43,34.5)};
\addplot[blob,elev] coordinates {(1.64,8)(6.45,7.5)(6.7,12.4)(8.43,34.5)(0,38.7)};
\end{axis}

% ================= G31 =================
\begin{axis}[L,Bot,at={(\cB,\rE)},xlabel={Time (h)},
  xlabel style={at={(axis description cs:0.482,-0.2265)},anchor=center}]
\addplot[res] coordinates {(5.05,9.8)(5.06,-8.4)(5.08,-3)(5.1,-6.6)(5.13,-1)(5.16,2)(5.19,-2)(5.22,1)(5.25,-3.5)(5.28,0)(5.31,-1.5)(5.35,-4)(5.39,-1)(5.43,1)(5.47,-2.5)(5.51,0.5)(5.55,-3)(5.6,4.5)(5.64,1)(5.68,3)(5.72,-1)(5.76,-4)(5.8,0.5)(5.84,3)(5.88,-2)(5.92,1)(5.96,-1)(6.0,2)(6.05,-0.5)(6.1,1)(6.15,-2)(6.2,0)(6.25,2.5)(6.3,-1)(6.35,0.5)(6.4,-2.5)(6.45,1)(6.5,-0.5)(6.55,2)(6.6,-1)(6.65,0)(6.7,-1.5)(6.75,1)(6.8,-0.5)(6.85,2)(6.9,-1)(6.95,3.1)(7.0,0)(7.05,-1)(7.1,1.5)(7.15,-2)(7.2,0.5)(7.25,-1)(7.3,2)(7.35,-0.5)(7.4,1)(7.45,-1.5)(7.5,2.5)(7.55,-0.5)(7.6,1)(7.65,-1)(7.7,0.5)(7.75,-1.5)(7.8,2)(7.85,-0.5)(7.9,0.5)(7.95,-1)(8.0,1.5)(8.05,-2)(8.1,0)(8.15,-1)(8.2,1.5)(8.25,-0.5)(8.3,-1.5)(8.34,-2.2)};
\addplot[sd1] coordinates {(5.05,1.1)(5.5,1.0)(6.5,0.8)(7.5,0.7)(8.34,0.7)};
\addplot[sd2] coordinates {(5.05,9.5)(5.26,8.2)(5.6,7.1)(5.95,6.6)(6.3,6.35)(6.99,6.0)(7.6,5.8)(8.34,5.7)};
\addplot[sd3] coordinates {(5.05,9.8)(5.05,18.6)(5.08,13)(5.12,15.5)(5.19,15.7)(5.25,14.5)(5.4,12.9)(5.58,10.2)(5.68,11.8)(5.75,11.7)(5.9,10.8)(6.09,9.8)(6.44,8.4)(6.86,7.1)(7.33,6.4)(7.89,6.0)(8.34,5.7)};
\addplot[blob,black] coordinates {(5.05,9.8)};
\ttl{0.497}{0.058}{Results of G31 Satellite}
\end{axis}
\begin{axis}[R,at={(\cB,\rE)}]
\addplot[ele] coordinates {(5.05,12)(5.5,22)(5.95,31.8)(6.3,38.5)(6.64,45.1)(7.0,52)(7.33,58.4)(7.7,63.5)(8.02,67.6)(8.2,68.8)(8.34,69)};
\end{axis}

% ================= G32 =================
\begin{axis}[L,Bot,at={(\cC,\rE)}]
\addplot[res] coordinates {(4.94,6)(4.95,-15)(4.97,-3)(5.0,1)(5.03,-4.5)(5.06,2)(5.1,-1)(5.14,1.5)(5.18,-2.5)(5.22,0)(5.26,2.5)(5.3,-1.5)(5.34,0.5)(5.38,-3)(5.42,1)(5.46,-1)(5.5,2)(5.54,-2.5)(5.58,0.5)(5.62,-4)(5.66,-0.5)(5.7,1.5)(5.74,-2)(5.78,5)(5.8,-1)(5.84,0)(5.88,-3)(5.92,1)(5.96,-1.5)(6.0,0)(6.05,-3.5)(6.1,1)(6.15,-1)(6.2,-2.5)(6.25,0.5)(6.3,-1)(6.35,-2)(6.4,0)(6.45,-3)(6.5,-1.5)(6.55,-2.5)(6.6,-0.5)(6.65,-4)(6.7,0)(6.75,2)(6.8,-1)(6.85,-3)(6.9,1)(6.95,-2)(7.0,-0.5)(7.05,-3)(7.1,2.5)(7.15,-1)(7.2,0.5)(7.25,-2)(7.3,1)(7.35,-3)(7.4,-1)(7.45,2)(7.5,-0.5)(7.55,-2.5)(7.6,0.5)(7.65,2.7)(7.7,-1)(7.75,-3.5)(7.8,-1)(7.85,0.5)(7.9,-2)(7.95,1.5)(8.0,-1)(8.05,-4)(8.1,0)(8.15,-1)(8.2,2)(8.25,-0.5)(8.3,1)(8.35,-4.9)(8.38,0.5)};
\addplot[sd1] coordinates {(4.94,0.7)(5.5,0.8)(6.5,0.8)(7.5,0.8)(8.35,0.9)};
\addplot[sd2] coordinates {(4.94,6.2)(5.3,5.9)(5.58,5.7)(6.33,5.5)(7.1,5.7)(7.8,6.0)(8.4,6.3)};
\addplot[sd3] coordinates {(4.94,5.7)(4.95,15.4)(4.95,11.3)(5.0,7.0)(5.1,7.6)(5.3,6.0)(5.58,5.4)(5.77,6.2)(6.0,5.6)(6.33,5.3)(6.7,5.0)(7.1,4.8)(7.5,4.8)(7.97,5.0)(8.3,5.7)};
\addplot[blob,black] coordinates {(4.95,15.4)(4.95,11.3)};
\addplot[blob,sdred] coordinates {(4.95,0.7)};
\ttl{0.503}{0.823}{Results of G32 Satellite}
\end{axis}
\begin{axis}[R,Rc3,at={(\cC,\rE)}]
\addplot[ele] coordinates {(4.94,42.8)(5.37,49.7)(6.0,59.8)(6.4,70)(6.75,82)(6.9,82.4)(7.1,79)(7.42,70)(7.97,57.1)(8.4,44.7)};
\addplot[blob,elev] coordinates {(4.95,43)};
\end{axis}
\end{tikzpicture}
\end{document}
